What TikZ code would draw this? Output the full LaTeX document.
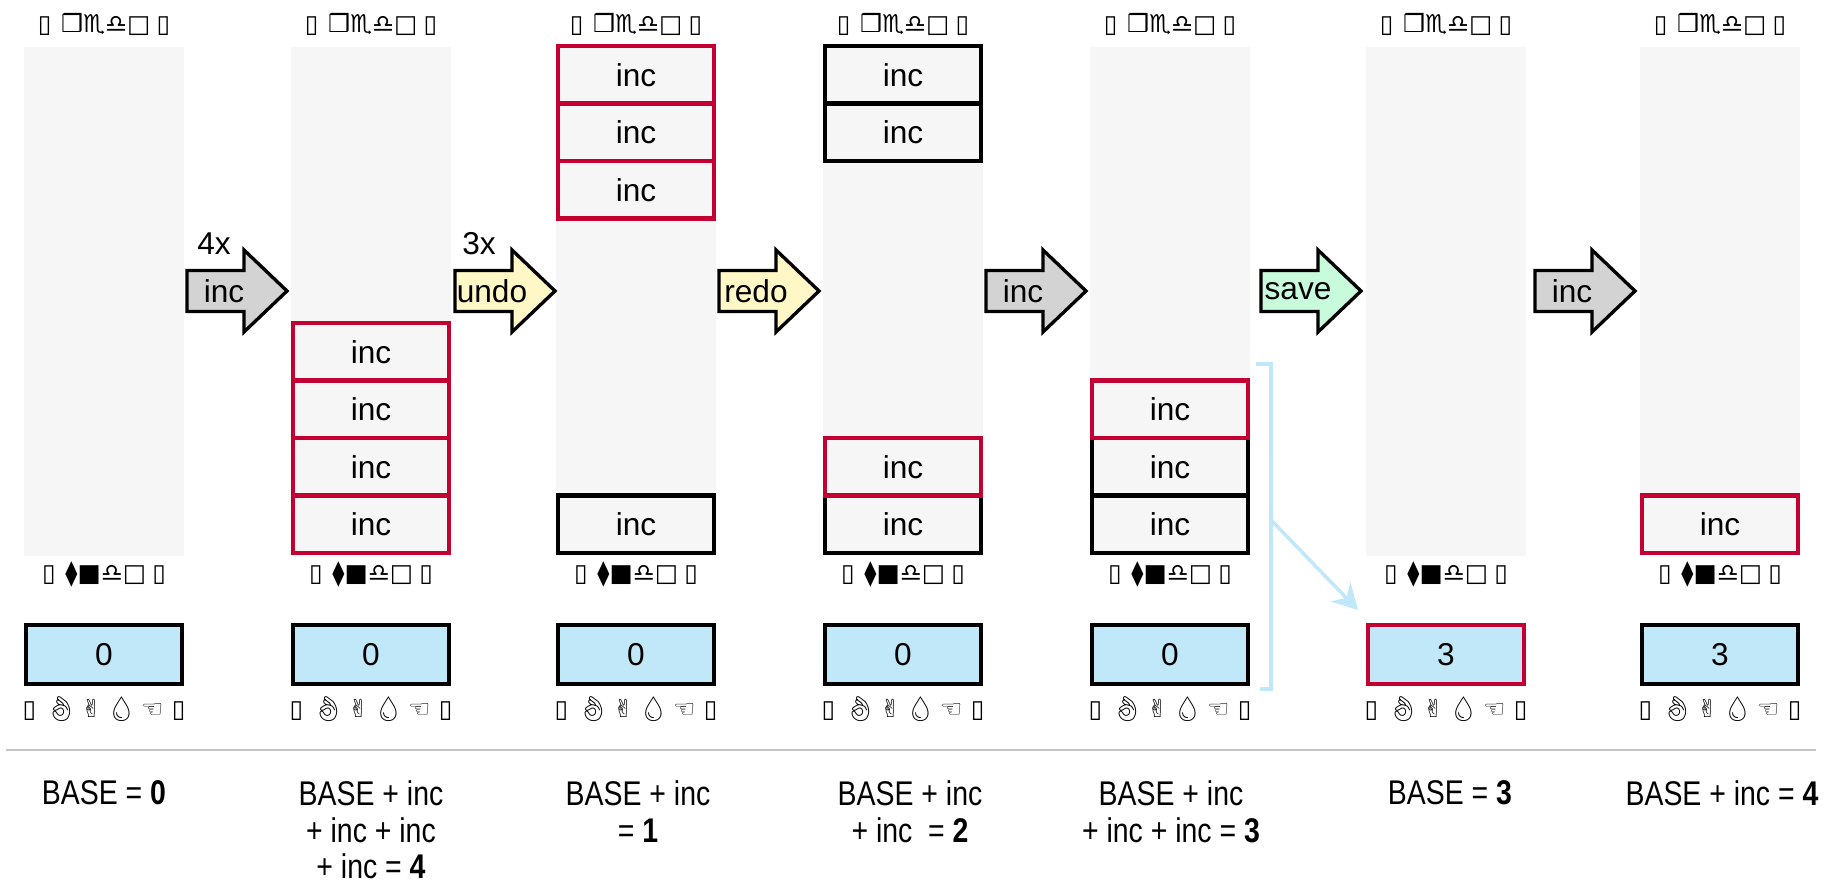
\documentclass[tikz,border=0pt]{standalone}
\usepackage{fontspec}
\setmainfont{Liberation Sans}
\newfontfamily\glyphfont{DejaVu Sans}
\newfontfamily\emojifont{Noto Emoji}
\newfontfamily\narrowfont[FakeStretch=0.83]{Liberation Sans}
\usetikzlibrary{arrows.meta}
\definecolor{hsred}{HTML}{C20032}
\definecolor{hsgray}{HTML}{F6F6F6}
\definecolor{hsblue}{HTML}{C0E8F8}
\definecolor{hsop}{HTML}{D3D3D3}
\definecolor{hsyellow}{HTML}{FFF8C6}
\definecolor{hsgreen}{HTML}{C8FADC}
\definecolor{hsrule}{HTML}{C4C4C4}
\newcommand\redotag{{\glyphfont ▯\hspace{0.4em}❒♏♎□\hspace{0.25em}▯}}
\newcommand\undotag{{\glyphfont ▯\hspace{0.4em}⧫■♎□\hspace{0.25em}▯}}
\newcommand\basetag{{\glyphfont ▯\hspace{0.4em}}{\emojifont 👌\,}{\glyphfont ✌\,}{\emojifont 💧\,}{\glyphfont ☜\hspace{0.35em}▯}}
\begin{document}
\begin{tikzpicture}[x=0.02cm,y=-0.02cm,
    stackcol/.style={fill=hsgray,minimum width=3.2cm,minimum height=10.18cm,inner sep=0pt},
    incbox/.style={draw=black,fill=hsgray,line width=2.5pt,minimum width=3.11cm,minimum height=1.15cm,inner sep=0pt,font=\fontsize{18}{20}\selectfont},
    newinc/.style={incbox,draw=hsred},
    basebox/.style={incbox,fill=hsblue,minimum height=1.17cm},
    tag/.style={font=\fontsize{14}{16}\selectfont,inner sep=0pt},
    oparrow/.style={draw=black,line width=1.9pt,line join=miter},
    optext/.style={font=\fontsize{18}{20}\selectfont,inner sep=0pt},
    formula/.style={font=\narrowfont\fontsize{19.5}{21}\selectfont,align=center,anchor=north,inner sep=0pt},
    copyarrow/.style={draw=hsblue,line width=2pt,-{Stealth[length=5mm,width=5.5mm]}}
  ]
  \useasboundingbox (0,0) rectangle (1837,884);

  % one column per state
  \foreach \cx/\val/\edge [count=\i] in {104/0/black,371/0/black,636/0/black,903/0/black,1170/0/black,1446/3/hsred,1720/3/black}{
    \node[stackcol] (col\i) at (\cx,301.5) {};
    \node[tag] (redo\i) at (\cx,24) {\redotag};
    \node[tag] (undo\i) at (\cx,574) {\undotag};
    \node[basebox,draw=\edge] (base\i) at (\cx,654.5) {\val};
    \node[tag] (bt\i) at (\cx,709) {\basetag};
  }

  % stack entries
  \foreach \k in {1,...,4}
    \node[newinc] (s2-\k) at (371,{553-57.5*(\k-0.5)}) {inc};
  \node[incbox] (s3-1) at (636,{553-57.5*0.5}) {inc};
  \foreach \k in {1,...,3}
    \node[newinc] (r3-\k) at (636,{46+57.5*(\k-0.5)}) {inc};
  \foreach \k in {1,2}
    \node[incbox] (r4-\k) at (903,{46+57.5*(\k-0.5)}) {inc};
  \node[incbox] (s4-1) at (903,{553-57.5*0.5}) {inc};
  \node[newinc] (s4-2) at (903,{553-57.5*1.5}) {inc};
  \foreach \k in {1,2}
    \node[incbox] (s5-\k) at (1170,{553-57.5*(\k-0.5)}) {inc};
  \node[newinc] (s5-3) at (1170,{553-57.5*2.5}) {inc};
  \node[newinc] (s7-1) at (1720,{553-57.5*0.5}) {inc};

  % operations
  \foreach \ax/\fc/\op [count=\j] in {187/hsop/inc,455/hsyellow/undo,719/hsyellow/redo,986/hsop/inc,1261/hsgreen/save,1535/hsop/inc}{
    \draw[oparrow,fill=\fc] (\ax,270.5) -- ++(57,0) -- ++(0,-20.5) -- ++(43,41) -- ++(-43,41) -- ++(0,-20.5) -- ++(-57,0) -- cycle;
    \node[optext] (op\j) at (\ax+37,291) {\op};
  }
  \node[optext] (rep1) at (214,244) {4x};
  \node[optext] (rep2) at (479,244) {3x};

  % save folds the stack into BASE
  \draw[draw=hsblue,line width=2pt] (1256,364) -| (1271,689) -- (1260,689);
  \coordinate (brk) at (1271,520);
  \coordinate (savetip) at (1358,610);
  \draw[copyarrow] (brk) -- (savetip);

  \draw[hsrule,line width=1.2pt] (6,750) -- (1816,750);

  \node[formula] (sum1) at (104,780) {BASE = \textbf{0}};
  \node[formula] (sum2) at (371,780) {BASE + inc\\+ inc + inc\\+ inc = \textbf{4}};
  \node[formula] (sum3) at (638,780) {BASE + inc\\= \textbf{1}};
  \node[formula] (sum4) at (910,780) {BASE + inc\\+ inc \ = \textbf{2}};
  \node[formula] (sum5) at (1171,780) {BASE + inc\\+ inc + inc = \textbf{3}};
  \node[formula] (sum6) at (1450,780) {BASE = \textbf{3}};
  \node[formula] (sum7) at (1722,780) {BASE + inc = \textbf{4}};
\end{tikzpicture}
\end{document}
